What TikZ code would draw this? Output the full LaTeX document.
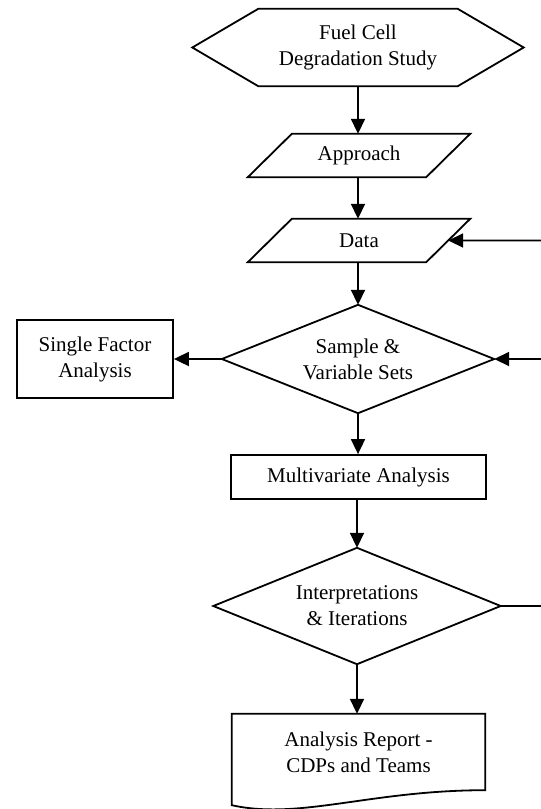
\documentclass[tikz,border=0pt]{standalone}
\usepackage{fontspec}
\setmainfont{Liberation Serif}
\usetikzlibrary{arrows.meta,calc}
\tikzset{
  base/.style={inner sep=0pt, font=\fontsize{21}{26}\selectfont, align=center},
  boxed/.style={base, draw, line width=1.8pt},
  outline/.style={draw, line width=1.8pt, line join=miter},
  arr/.style={-{Triangle[length=15pt,width=14pt]}, line width=1.8pt},
  ln/.style={line width=1.8pt}
}
\begin{document}
\begin{tikzpicture}[x=1pt,y=-1pt]
\useasboundingbox (0,0) rectangle (541,809);
% nodes
\node[base, minimum width=331pt, minimum height=77pt] (hex) at (358,47.5) {Fuel Cell\\Degradation Study};
\node[base, minimum width=222pt, minimum height=43pt] (appr) at (359,155.5) {Approach};
\node[base, minimum width=222pt, minimum height=43pt] (data) at (359,240.5) {Data};
\node[base, minimum width=272pt, minimum height=108pt] (samp) at (358,359) {Sample \&\\Variable Sets};
\node[boxed, minimum width=156pt, minimum height=78pt] (single) at (95,359) {Single Factor\\Analysis};
\node[boxed, minimum width=255pt, minimum height=44pt] (multi) at (358.5,477) {Multivariate Analysis};
\node[base, minimum width=287pt, minimum height=116pt] (interp) at (357,606) {Interpretations\\\& Iterations};
\node[base, minimum width=253pt, minimum height=76pt] (report) at (358.5,752) {Analysis Report -\\CDPs and Teams};
% outlines
\draw[outline] (hex.west) -- ($(hex.north west)+(66,0)$) -- ($(hex.north east)+(-66,0)$) -- (hex.east) -- ($(hex.south east)+(-66,0)$) -- ($(hex.south west)+(66,0)$) -- cycle;
\draw[outline] ($(appr.north west)+(44,0)$) -- (appr.north east) -- ($(appr.south east)+(-44,0)$) -- (appr.south west) -- cycle;
\draw[outline] ($(data.north west)+(44,0)$) -- (data.north east) -- ($(data.south east)+(-44,0)$) -- (data.south west) -- cycle;
\draw[outline] (samp.north) -- (samp.east) -- (samp.south) -- (samp.west) -- cycle;
\draw[outline] (interp.north) -- (interp.east) -- (interp.south) -- (interp.west) -- cycle;
\draw[outline] (report.south west) -- (report.north west) -- (report.north east) -- (report.south east)
  .. controls ($(report.south east)+(-115,0)$) and ($(report.south west)+(68,30)$) .. ($(report.south west)+(0,15)$) -- cycle;
% coordinates
\coordinate (dataR) at ($(data.north east)!0.5!($(data.south east)+(-44,0)$)$);
\coordinate (eR1) at (541,240.5);
\coordinate (eR2) at (541,359);
\coordinate (eR3) at (541,606);
% connectors
\draw[arr] (hex.south) -- (hex.south |- appr.north);
\draw[arr] (appr.south -| hex.south) -- (hex.south |- data.north);
\draw[arr] (data.south -| samp.north) -- (samp.north);
\draw[arr] (samp.south) -- (samp.south |- multi.north);
\draw[arr] (multi.south -| interp.north) -- (interp.north);
\draw[arr] (interp.south) -- (interp.south |- report.north);
\draw[arr] (samp.west) -- (single.east);
\draw[arr] (eR2) -- (samp.east);
\draw[arr] (eR1) -- (dataR);
\draw[ln] (interp.east) -- (eR3);
\end{tikzpicture}
\end{document}
